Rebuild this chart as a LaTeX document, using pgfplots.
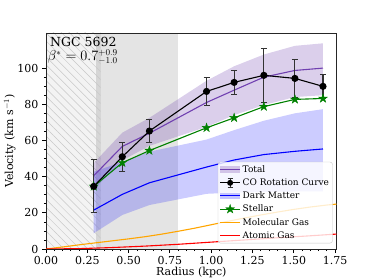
\documentclass[border=0pt]{standalone}
\usepackage{fontspec}
\setmainfont{DejaVu Serif}
\usepackage{pgfplots}
\pgfplotsset{compat=1.18}
\usepgfplotslibrary{fillbetween}
\usetikzlibrary{patterns.meta}

\definecolor{totc}{RGB}{112,64,176}
\definecolor{totband}{RGB}{210,196,232}
\definecolor{dmc}{RGB}{0,0,255}
\definecolor{dmband}{RGB}{196,196,255}
\definecolor{stc}{RGB}{0,128,0}
\definecolor{mgc}{RGB}{255,165,0}
\definecolor{agc}{RGB}{255,0,0}
\definecolor{hatchbg}{RGB}{243,243,243}
\definecolor{hatchln}{RGB}{200,200,200}
\definecolor{grayreg}{RGB}{228,228,228}
\definecolor{stripc}{RGB}{214,214,214}
\definecolor{errc}{RGB}{50,50,50}

\pgfdeclareplotmark{fstar}{%
  \pgfpathmoveto{\pgfpointpolar{90}{\pgfplotmarksize}}%
  \pgfpathlineto{\pgfpointpolar{126}{0.382*\pgfplotmarksize}}%
  \pgfpathlineto{\pgfpointpolar{162}{\pgfplotmarksize}}%
  \pgfpathlineto{\pgfpointpolar{198}{0.382*\pgfplotmarksize}}%
  \pgfpathlineto{\pgfpointpolar{234}{\pgfplotmarksize}}%
  \pgfpathlineto{\pgfpointpolar{270}{0.382*\pgfplotmarksize}}%
  \pgfpathlineto{\pgfpointpolar{306}{\pgfplotmarksize}}%
  \pgfpathlineto{\pgfpointpolar{342}{0.382*\pgfplotmarksize}}%
  \pgfpathlineto{\pgfpointpolar{18}{\pgfplotmarksize}}%
  \pgfpathlineto{\pgfpointpolar{54}{0.382*\pgfplotmarksize}}%
  \pgfpathclose
  \pgfusepathqfillstroke
}

% radius, total, total_lo, total_hi, dm, dm_lo, dm_hi, stellar
\pgfplotstableread{
x     tot   totlo  tothi  dm    dmlo  dmhi  st
0.289 40.5  33.0   47.5   21.5  8.7   42.7  34.6
0.462 56.7  49.0   64.3   30.2  18.8  48.2  47.7
0.626 64.0  57.0   72.5   36.6  24.3  53.8  54.4
0.972 81.0  67.5   93.0   45.3  30.5  60.5  67.0
1.139 87.8  74.0   101.0  49.2  31.2  65.7  72.5
1.319 95.0  79.6   107.5  52.2  31.6  70.9  78.7
1.507 98.7  84.0   112.3  54.0  31.8  75.0  82.7
1.677 100.0 85.0   113.7  55.3  31.8  77.3  83.2
}\modeltab

% CO rotation curve: radius, velocity, error
\pgfplotstableread{
x     v     e
0.289 34.6  14.7
0.462 51.0  8.0
0.626 65.2  6.5
0.972 87.1  7.8
1.139 92.1  6.6
1.319 96.0  15.1
1.507 94.3  10.7
1.677 89.9  6.8
}\cotab

\begin{document}
\begin{tikzpicture}
\begin{axis}[
  set layers,
  at={(46bp,31bp)}, anchor=south west, scale only axis,
  width=290.7bp, height=216bp,
  xmin=0, xmax=1.76, ymin=0, ymax=119.4,
  xtick={0,0.25,0.5,0.75,1,1.25,1.5,1.75},
  xticklabels={0.00,0.25,0.50,0.75,1.00,1.25,1.50,1.75},
  ytick={0,20,40,60,80,100},
  yticklabels={0,20,40,60,80,100},
  minor x tick num=4, minor y tick num=3,
  tick pos=left, tick align=outside,
  major tick length=4bp, minor tick length=2.2bp,
  every tick/.style={black, line width=0.8bp},
  every minor tick/.style={black, line width=0.6bp},
  axis line style={line width=0.8bp, black!85},
  ticklabel style={font=\fontsize{11bp}{13bp}\selectfont},
  label style={font=\fontsize{11bp}{13bp}\selectfont},
  xlabel={Radius (kpc)},
  ylabel={Velocity (km s$^{-1}$)},
  xlabel style={at={(axis description cs:0.5,0)}, anchor=base, yshift=-26bp},
  ylabel style={at={([xshift=-33bp]axis description cs:0,0.5)}, anchor=base},
  legend cell align=left,
  legend style={at={(rel axis cs:1,0)}, anchor=south east, xshift=-4bp, yshift=5.7bp,
    draw=black!22, fill=white, fill opacity=0.8, draw opacity=1, text opacity=1,
    rounded corners=2.5bp, font=\fontsize{9bp}{11bp}\selectfont,
    inner xsep=1.5bp, inner ysep=1.5bp, row sep=0.9bp},
]
% background regions
\begin{pgfonlayer}{axis background}
\fill[grayreg] (axis cs:0.33,0) rectangle (axis cs:0.8,119.4);
\fill[hatchbg] (axis cs:0,0) rectangle (axis cs:0.30,119.4);
\fill[stripc] (axis cs:0.30,0) rectangle (axis cs:0.33,119.4);
\fill[pattern={Lines[angle=-45, distance=5.6bp, line width=0.5bp]}, pattern color=hatchln]
  (axis cs:0,0) rectangle (axis cs:0.33,119.4);
\end{pgfonlayer}

% bands
\addplot[name path=tlo, draw=none, forget plot] table[x=x, y=totlo] {\modeltab};
\addplot[name path=thi, draw=none, forget plot] table[x=x, y=tothi] {\modeltab};
\addplot[totc, fill opacity=0.25, draw=none, forget plot] fill between[of=tlo and thi];
\addplot[name path=dlo, draw=none, forget plot] table[x=x, y=dmlo] {\modeltab};
\addplot[name path=dhi, draw=none, forget plot] table[x=x, y=dmhi] {\modeltab};
\addplot[dmc, fill opacity=0.2, draw=none, forget plot] fill between[of=dlo and dhi];

% lines
\addplot[totc, line width=1.1bp, forget plot] table[x=x, y=tot] {\modeltab};
\addplot[dmc, line width=1.1bp, forget plot] table[x=x, y=dm] {\modeltab};
\addplot[stc, line width=1.1bp, mark=fstar, mark size=4.6bp,
  mark options={fill=stc, draw=stc, line width=0.4bp}, forget plot] table[x=x, y=st] {\modeltab};
\addplot[black, line width=1.1bp, mark=*, mark size=3bp, forget plot,
  mark options={fill=black, draw=black},
  error bars/.cd, y dir=both, y explicit,
  error bar style={line width=1.1bp, errc},
  error mark options={rotate=90, mark size=3bp, line width=1bp, errc}]
  table[x=x, y=v, y error=e] {\cotab};

% gas curves
\addplot[mgc, line width=1.1bp, forget plot] coordinates {
(0,0) (0.1,1.1) (0.2,2.3) (0.3,3.4) (0.4,4.5) (0.5,5.6) (0.6,6.8) (0.7,8.2)
(0.8,9.8) (0.9,11.5) (1.0,13.4) (1.1,15.3) (1.2,17.1) (1.3,18.8) (1.4,20.4)
(1.5,21.9) (1.6,23.2) (1.7,24.3) (1.8,25.2)};
\addplot[agc, line width=1.1bp, forget plot] coordinates {
(0,0) (0.2,0.2) (0.4,0.8) (0.6,1.6) (0.8,2.6) (1.0,3.8) (1.2,5.0) (1.4,6.2)
(1.6,7.3) (1.8,8.5)};

% legend
\addlegendimage{legend image code/.code={
  \draw[totband, line width=1.2bp] (0bp,-2.6bp)--(20bp,-2.6bp);
  \draw[totband, line width=1.2bp] (0bp,-1.56bp)--(20bp,-1.56bp);
  \draw[totband, line width=1.2bp] (0bp,-0.52bp)--(20bp,-0.52bp);
  \draw[totband, line width=1.2bp] (0bp,0.52bp)--(20bp,0.52bp);
  \draw[totband, line width=1.2bp] (0bp,1.56bp)--(20bp,1.56bp);
  \draw[totband, line width=1.2bp] (0bp,2.6bp)--(20bp,2.6bp);
  \draw[totc, line width=1.1bp] (0bp,0bp)--(20bp,0bp);}}
\addlegendentry{Total}
\addlegendimage{legend image code/.code={
  \draw[black, line width=1.1bp] (0bp,0bp)--(20bp,0bp);
  \draw[errc, line width=1.1bp] (10bp,-4.5bp)--(10bp,4.5bp);
  \draw[errc, line width=1bp] (7.5bp,-4.5bp)--(12.5bp,-4.5bp) (7.5bp,4.5bp)--(12.5bp,4.5bp);
  \begin{pgfscope}\pgfsetfillopacity{1}\pgfsetfillcolor{black}
  \pgfpathcircle{\pgfqpoint{10bp}{0bp}}{3bp}\pgfusepath{fill}\end{pgfscope}}}
\addlegendentry{CO Rotation Curve}
\addlegendimage{legend image code/.code={
  \draw[dmband, line width=1.2bp] (0bp,-2.6bp)--(20bp,-2.6bp);
  \draw[dmband, line width=1.2bp] (0bp,-1.56bp)--(20bp,-1.56bp);
  \draw[dmband, line width=1.2bp] (0bp,-0.52bp)--(20bp,-0.52bp);
  \draw[dmband, line width=1.2bp] (0bp,0.52bp)--(20bp,0.52bp);
  \draw[dmband, line width=1.2bp] (0bp,1.56bp)--(20bp,1.56bp);
  \draw[dmband, line width=1.2bp] (0bp,2.6bp)--(20bp,2.6bp);
  \draw[dmc, line width=1.1bp] (0bp,0bp)--(20bp,0bp);}}
\addlegendentry{Dark Matter}
\addlegendimage{legend image code/.code={
  \draw[stc, line width=1.1bp] (0bp,0bp)--(20bp,0bp);
  \pgfsetfillopacity{1}\pgfsetfillcolor{stc}\pgfsetstrokecolor{stc}\pgfsetlinewidth{0.4bp}
  \def\pgfplotmarksize{4.6bp}
  \pgftransformshift{\pgfqpoint{10bp}{0bp}}\pgfuseplotmark{fstar}}}
\addlegendentry{Stellar}
\addlegendimage{legend image code/.code={
  \draw[mgc, line width=1.1bp] (0bp,0bp)--(20bp,0bp);}}
\addlegendentry{Molecular Gas}
\addlegendimage{legend image code/.code={
  \draw[agc, line width=1.1bp] (0bp,0bp)--(20bp,0bp);}}
\addlegendentry{Atomic Gas}

% annotations
\node[anchor=base west, inner sep=0pt, xshift=4bp, yshift=-13.3bp,
  font=\fontsize{12.5bp}{15bp}\selectfont] at (rel axis cs:0,1) {NGC 5692};
\node[anchor=base west, inner sep=0pt, xshift=1.5bp, yshift=-27.3bp,
  font=\fontsize{13.5bp}{16bp}\selectfont] at (rel axis cs:0,1) {$\beta^* = 0.7^{+0.9}_{-1.0}$};
\end{axis}
\pgfresetboundingbox
\useasboundingbox (0,0) rectangle (374bp,280bp);
\end{tikzpicture}
\end{document}
